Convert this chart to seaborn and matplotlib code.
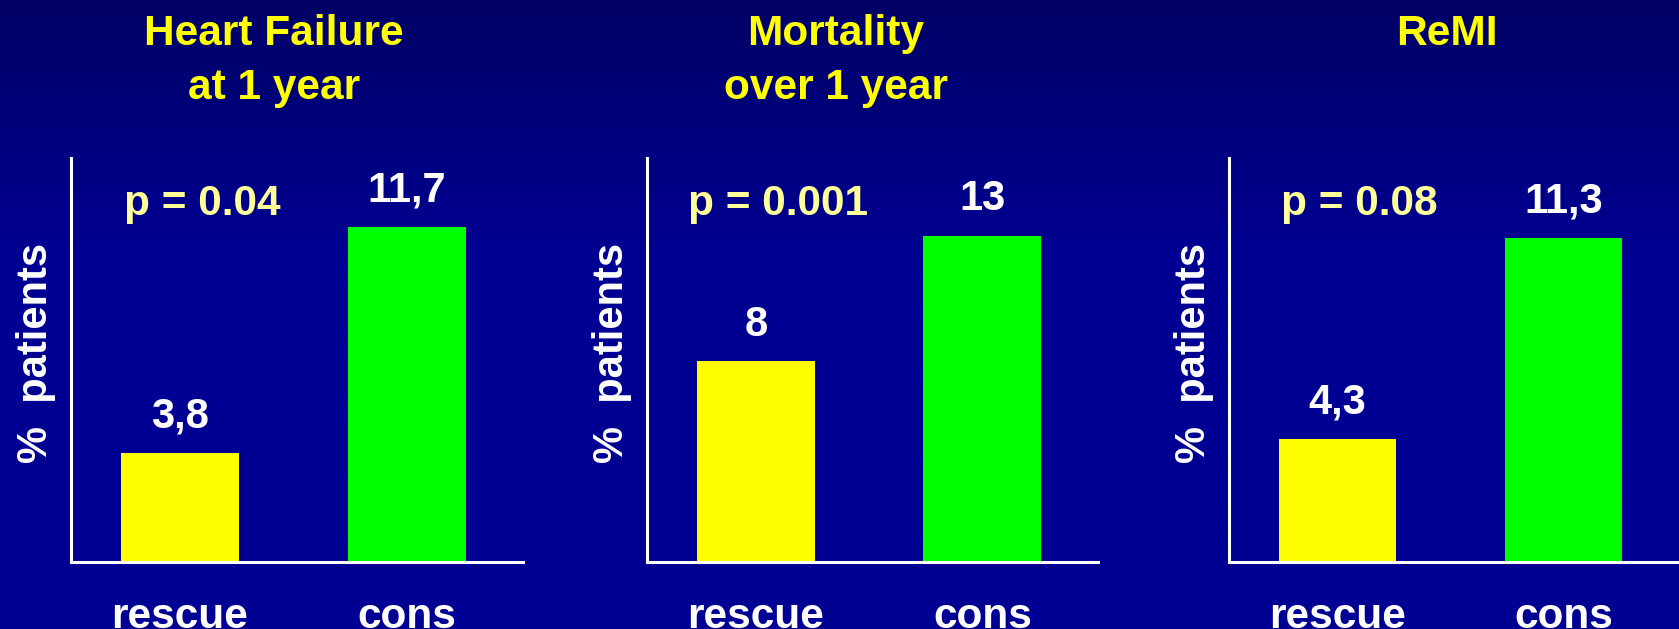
import numpy as np
import pandas as pd
import matplotlib.pyplot as plt
import seaborn as sns

# values
titles = ["Heart Failure\nat 1 year", "Mortality\nover 1 year", "ReMI"]
groups = ["rescue", "cons"]
heart_failure = [3.8, 11.7]
mortality = [8, 13]
remi = [4.3, 11.3]
value_labels = [["3,8", "11,7"], ["8", "13"], ["4,3", "11,3"]]
p_values = ["p = 0.04", "p = 0.001", "p = 0.08"]

series = [heart_failure, mortality, remi]

sns.set_theme(style="white")
plt.rcParams['font.family'] = ['Liberation Sans', 'DejaVu Sans']
plt.rcParams['font.weight'] = 'bold'

W, H = 1679, 629
fig = plt.figure(figsize=(W / 100, H / 100), dpi=100)

# dark blue slide background, a bit darker at the top
bg = fig.add_axes([0, 0, 1, 1], zorder=-10)
grad = np.clip(np.linspace(0, 1, 300) / 0.4, 0, 1)[:, None]
top = np.array([0, 0, 0x66]) / 255
bottom = np.array([0, 0, 0x92]) / 255
img = top + (bottom - top) * grad[..., None]
bg.imshow(img, aspect='auto', extent=[0, 1, 0, 1])
bg.axis('off')

# layout in pixels
lefts = [71, 647, 1229]
widths = [452, 451, 450]
ax_bottom, ax_height = 67, 404
ytops = [14.1, 16.1, 14.1]
title_x = [274, 836, 1447]

for i in range(3):
    ax = fig.add_axes([lefts[i] / W, ax_bottom / H, widths[i] / W, ax_height / H])
    ax.patch.set_alpha(0)
    df = pd.DataFrame({"group": groups, "value": series[i]})
    sns.barplot(data=df, x="group", y="value", hue="group",
                palette=["#FFFF00", "#00FF00"], width=0.52,
                saturation=1, legend=False, linewidth=0, ax=ax)
    ax.set_xlim(-0.48, 1.51)
    ax.set_ylim(0, ytops[i])
    ax.set_yticks([])
    ax.set_xlabel("")
    ax.set_ylabel("")
    for s in ["top", "right"]:
        ax.spines[s].set_visible(False)
    for s in ["left", "bottom"]:
        ax.spines[s].set_color("white")
        ax.spines[s].set_linewidth(2.2)
    ax.tick_params(axis='x', length=0, pad=25, labelsize=30.5, labelcolor="white")

    for j, v in enumerate(series[i]):
        ax.annotate(value_labels[i][j], (j, v), xytext=(0, 18.5),
                    textcoords="offset points", ha="center", va="baseline",
                    fontsize=30, color="white", fontweight="bold")

    ax.text(0.29, 0.859, p_values[i], transform=ax.transAxes,
            ha="center", va="baseline", fontsize=30.5,
            color="#FFFF99", fontweight="bold")
    ax.text(-35 / widths[i], 0.517, "%  patients", transform=ax.transAxes,
            rotation=90, ha="center", va="center", fontsize=30,
            color="white", fontweight="bold")

    fig.text(title_x[i] / W, 1 - 14 / H, titles[i], ha="center", va="top",
             fontsize=30.5, color="#FFFF00", fontweight="bold",
             linespacing=1.45)

fig.savefig("out.png", dpi=100)
